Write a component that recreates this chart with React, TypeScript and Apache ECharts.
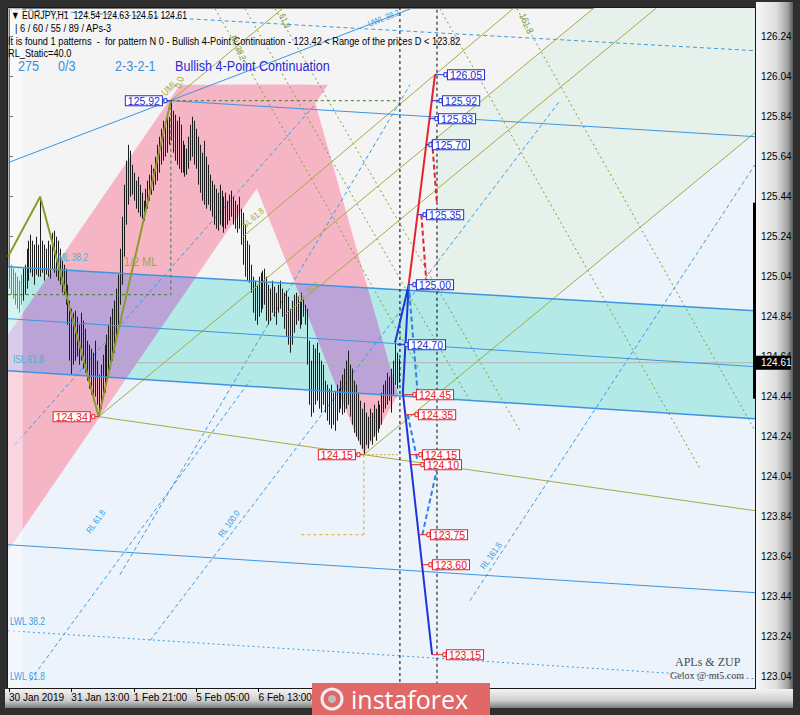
import React, { useEffect, useRef } from "react";
import * as echarts from "echarts";

// ---------------- data ----------------
const barHigh = [
  125.12, 125.10, 125.08, 125.06, 125.04, 125.02, 125.05, 125.08, 125.10, 125.18,
  125.22, 125.25, 125.22, 125.20, 125.24, 125.20, 125.44, 125.22, 125.20, 125.18,
  125.22, 125.20, 125.26, 125.27, 125.24, 125.22, 125.18, 125.12, 125.10, 125.08,
  125.00, 124.92, 124.88, 124.86, 124.87, 124.84, 124.80, 124.86, 124.82, 124.78,
  124.72, 124.70, 124.68, 124.66, 124.72, 124.62, 124.55, 124.60, 124.65, 124.70,
  124.75, 124.80, 124.84, 124.88, 124.92, 124.98, 125.05, 125.18, 125.34, 125.50,
  125.62, 125.70, 125.67, 125.60, 125.56, 125.52, 125.54, 125.50, 125.46, 125.42,
  125.48, 125.52, 125.55, 125.60, 125.58, 125.64, 125.70, 125.74, 125.78, 125.82,
  125.80, 125.86, 125.84, 125.92, 125.87, 125.85, 125.82, 125.84, 125.80, 125.72,
  125.70, 125.68, 125.74, 125.80, 125.84, 125.82, 125.78, 125.74, 125.70, 125.66,
  125.72, 125.64, 125.60, 125.55, 125.52, 125.50, 125.48, 125.46, 125.50, 125.47,
  125.44, 125.46, 125.42, 125.45, 125.47, 125.44, 125.42, 125.40, 125.44, 125.38,
  125.36, 125.30, 125.22, 125.20, 125.10, 125.04, 125.02, 125.00, 125.04, 125.06,
  125.07, 125.08, 125.04, 125.00, 124.98, 125.02, 124.99, 124.96, 125.00, 125.02,
  124.98, 124.96, 124.97, 124.94, 124.88, 124.92, 124.95, 124.96, 124.94, 124.92,
  124.96, 124.93, 124.90, 124.88, 124.72, 124.62, 124.70, 124.68, 124.71, 124.66,
  124.62, 124.60, 124.52, 124.50, 124.48, 124.50, 124.46, 124.47, 124.50, 124.48,
  124.52, 124.55, 124.58, 124.62, 124.67, 124.60, 124.58, 124.52, 124.50, 124.46,
  124.42, 124.38, 124.41, 124.36, 124.34, 124.38, 124.36, 124.40, 124.38, 124.42,
  124.40, 124.46, 124.50, 124.52, 124.56, 124.54, 124.58, 124.62, 124.71, 124.66,
  124.63,
];
const barLow = [
  124.98, 124.95, 124.93, 124.90, 124.88, 124.86, 124.90, 124.92, 124.95, 124.98,
  125.02, 125.06, 125.04, 125.00, 125.05, 125.04, 125.04, 125.06, 125.02, 125.05,
  125.04, 125.03, 125.08, 125.06, 125.04, 125.02, 125.00, 124.96, 124.95, 124.90,
  124.80, 124.62, 124.55, 124.60, 124.62, 124.64, 124.60, 124.62, 124.58, 124.56,
  124.52, 124.48, 124.45, 124.42, 124.44, 124.40, 124.34, 124.38, 124.44, 124.46,
  124.50, 124.55, 124.58, 124.62, 124.66, 124.72, 124.80, 124.90, 125.00, 125.14,
  125.30, 125.40, 125.44, 125.45, 125.42, 125.38, 125.36, 125.34, 125.33, 125.32,
  125.35, 125.38, 125.42, 125.45, 125.47, 125.50, 125.52, 125.56, 125.60, 125.62,
  125.64, 125.66, 125.70, 125.72, 125.66, 125.62, 125.60, 125.58, 125.56, 125.56,
  125.54, 125.55, 125.58, 125.62, 125.64, 125.60, 125.58, 125.50, 125.46, 125.42,
  125.40, 125.38, 125.40, 125.37, 125.34, 125.30, 125.28, 125.27, 125.30, 125.29,
  125.26, 125.28, 125.30, 125.32, 125.34, 125.30, 125.28, 125.26, 125.28, 125.20,
  125.10, 125.04, 125.02, 125.01, 124.96, 124.86, 124.82, 124.80, 124.84, 124.86,
  124.88, 124.90, 124.82, 124.80, 124.82, 124.86, 124.84, 124.80, 124.86, 124.88,
  124.84, 124.78, 124.74, 124.70, 124.66, 124.70, 124.76, 124.80, 124.82, 124.78,
  124.80, 124.84, 124.80, 124.60, 124.40, 124.34, 124.36, 124.40, 124.42, 124.38,
  124.36, 124.40, 124.36, 124.32, 124.30, 124.28, 124.30, 124.27, 124.32, 124.36,
  124.38, 124.35, 124.36, 124.38, 124.40, 124.34, 124.30, 124.26, 124.24, 124.22,
  124.20, 124.18, 124.15, 124.20, 124.18, 124.22, 124.20, 124.24, 124.22, 124.26,
  124.28, 124.30, 124.36, 124.38, 124.40, 124.42, 124.36, 124.45, 124.50, 124.48,
  124.51,
];

const xTickIndex = [0, 32, 64, 96, 128];
const xTickLabels = ["30 Jan 2019", "31 Jan 13:00", "1 Feb 21:00", "5 Feb 05:00", "6 Feb 13:00"];
const yTickValues = [
  123.04, 123.24, 123.44, 123.64, 123.84, 124.04, 124.24, 124.44, 124.64,
  124.84, 125.04, 125.24, 125.44, 125.64, 125.84, 126.04, 126.24,
];
const lastPrice = 124.61;
const axisRangeBar = [125.41, 124.43];
const X_MIN = -0.5;
const X_MAX = 382.6;
const Y_MIN = 122.9835;
const Y_MAX = 126.3835;

// ZUP zigzag and pivots
const zigzagPts = [[-0.5, 125.14], [16, 125.44], [46, 124.34], [83, 125.92]];
const pivotIdx = [46, 83, 182];
const pivotPrice = [124.34, 125.92, 124.15];

// Andrews pitchfork (olive)
const forkMedian = [[46, 124.34], [300, 126.3835]];
const forkUpper = [[83, 125.92], [140.7, 126.3835]];
const forkLower = [[182, 124.15], [382.6, 125.76]];
const forkAC = [[46, 124.34], [382.6, 123.87]];
const forkLine1 = [[120, 125.24], [259, 126.3835]];
const forkLine3 = [[141.5, 124.85], [332, 126.3835]];

// blue channel lines
const blueB0 = [[-0.5, 125.61], [207, 126.3835]];
const blueB4 = [[83, 125.92], [382.6, 125.74]];
const blueB1 = [[-0.5, 125.09], [382.6, 124.87]];
const blueB2 = [[-0.5, 124.83], [382.6, 124.59]];
const blueB3 = [[-0.5, 124.57], [382.6, 124.33]];
const blueB5 = [[-0.5, 123.70], [382.6, 123.46]];
const blueLWL38 = [[-0.5, 123.27], [382.6, 123.03]];
const blueTopDash = [[-0.5, 126.38], [382.6, 126.17]];

// dashed blue fan lines
const fanLines = [
  [[3.1, 124.20], [156.9, 125.90]],
  [[72.3, 123.22], [282.6, 125.92]],
  [[236.4, 123.42], [382.6, 125.60]],
  [[56.9, 123.55], [205.7, 126.00]],
  [[10.8, 123.02], [123.6, 124.52]],
];
// dotted olive fibo lines
const fiboLines = [
  [[105.7, 126.38], [210.8, 124.57]],
  [[121.0, 126.38], [236.4, 124.42]],
  [[136.4, 126.38], [262.1, 124.27]],
  [[221.0, 126.38], [354.4, 124.08]],
  [[260.5, 126.38], [382.6, 124.27]],
];

// shaded zones
const cyanBand = [[-0.5, 125.09], [382.6, 124.87], [382.6, 124.33], [-0.5, 124.57]];
const pinkBand1 = [[-0.5, 124.75], [87.7, 126.0], [163.6, 126.0], [-0.5, 123.67]];
const pinkBand2 = [[105.7, 126.0], [154.4, 126.0], [199.5, 124.45], [182, 124.15]];
const lightBlueZone = [[-0.5, 124.57], [182, 124.456], [182, 124.15], [382.6, 125.76], [382.6, 122.9835], [-0.5, 122.9835]];
const forkZone = [[219.5, 125.734], [300, 126.3835], [382.6, 126.3835], [382.6, 125.76], [219.5, 124.45]];
const leftStrip = [[-0.5, 122.9835], [7, 122.9835], [7, 126.3835], [-0.5, 126.3835]];

// guides
const greenDashH = [[83, 125.92], [200.5, 125.92]];
const greenDashV = [[83, 125.92], [83, 124.95]];
const greenDashH2 = [[-0.5, 124.95], [83, 124.95]];
const orangeDashV = [[182, 124.15], [182, 123.75]];
const orangeDashH = [[150, 123.75], [182, 123.75]];
const orangeDotH = [[182, 124.15], [200.5, 124.15]];
const vLine1 = [[200.5, 122.9835], [200.5, 126.3835]];
const vLine2 = [[219.5, 123.0], [219.5, 126.3835]];

// projections
const projRedSolid = [[205, 125.0], [218.5, 126.05]];
const projRedDash1 = [[217, 125.72], [219.5, 125.40]];
const projRedDash2 = [[211.5, 125.35], [214, 125.02]];
const projBlueSolid = [[198, 124.71], [205, 125.0], [202, 124.46], [217, 123.15]];
const projBlueDash1 = [[205, 125.0], [209.5, 124.47]];
const projBlueDash2 = [[204.5, 124.35], [209.5, 124.12]];
const projBlueDash3 = [[212, 123.75], [220, 124.10]];

const upPrices = [126.05, 125.92, 125.83, 125.70, 125.35, 125.00, 124.70];
const upAnchor = [218.5, 216.9, 215.8, 214.1, 209.6, 204.6, 199];
const upBox = [224.6, 222.1, 220.0, 216.9, 213.9, 208.7, 204.6];
const downPrices = [124.45, 124.35, 124.15, 124.10, 123.75, 123.60, 123.15];
const downAnchor = [202.1, 203.2, 205.5, 206.1, 210.1, 211.8, 217];
const downBox = [208.7, 209.8, 211.8, 212.8, 215.9, 216.9, 224.1];

// ---------------- helpers ----------------
function clipConvex(subject: number[][], clipper: number[][]) {
  let area = 0;
  for (let k = 0; k < clipper.length; k++) {
    const a = clipper[k], b = clipper[(k + 1) % clipper.length];
    area += a[0] * b[1] - b[0] * a[1];
  }
  const sign = area > 0 ? 1 : -1;
  let output = subject.slice();
  for (let k = 0; k < clipper.length && output.length; k++) {
    const a = clipper[k], b = clipper[(k + 1) % clipper.length];
    const inside = (p: number[]) => sign * ((b[0] - a[0]) * (p[1] - a[1]) - (b[1] - a[1]) * (p[0] - a[0])) >= 0;
    const inter = (p: number[], q: number[]) => {
      const den = (p[0] - q[0]) * (a[1] - b[1]) - (p[1] - q[1]) * (a[0] - b[0]);
      const t = ((p[0] - a[0]) * (a[1] - b[1]) - (p[1] - a[1]) * (a[0] - b[0])) / den;
      return [p[0] + t * (q[0] - p[0]), p[1] + t * (q[1] - p[1])];
    };
    const input = output;
    output = [];
    for (let j = 0; j < input.length; j++) {
      const cur = input[j], prev = input[(j + input.length - 1) % input.length];
      if (inside(cur)) {
        if (!inside(prev)) output.push(inter(prev, cur));
        output.push(cur);
      } else if (inside(prev)) output.push(inter(prev, cur));
    }
  }
  return output;
}

const C = {
  bg: "#f4f4f4",
  pink: "#f5b5c5",
  purple: "#bba3d7",
  cyan: "#b3e9e6",
  lightBlue: "#ecf3fb",
  tint: "#e7f1ec",
  olive: "#a3ab44",
  zig: "#8c9b2e",
  oliveDot: "#7e9c3c",
  blue: "#3d95df",
  blueDash: "#3a9be2",
  projRed: "#e8212b",
  projBlue: "#1f35d8",
  projBlueDash: "#2d84e6",
  tagRed: "#e32028",
  tagBlue: "#1f2fd0",
  teal: "#47b2c9",
};

const FONT = '"Liberation Sans", Arial, sans-serif';

function polySeries(polys: number[][][], colors: string[], z: number, opacity = 1) {
  return {
    type: "custom",
    z,
    silent: true,
    data: polys.map(() => [0, 124]),
    renderItem: (params: any, api: any) => {
      const pts = polys[params.dataIndex].map((p) => api.coord(p));
      return { type: "polygon", shape: { points: pts }, style: { fill: colors[params.dataIndex], opacity } };
    },
  };
}

function lineSeries(pts: number[][], color: string, width: number, type: any, z: number) {
  return {
    type: "line",
    data: pts,
    symbol: "none",
    silent: true,
    z,
    lineStyle: { color, width, type },
  };
}

export default function App() {
  const ref = useRef<HTMLDivElement>(null);

  useEffect(() => {
    if (!ref.current) return;
    const chart = echarts.init(ref.current, undefined, { renderer: "svg" });

    const purple1 = clipConvex(pinkBand1, cyanBand);
    const purple2 = clipConvex(pinkBand2, cyanBand);

    const tags: any[] = [];
    upPrices.forEach((p, k) =>
      tags.push({ anchor: [upAnchor[k], p], box: upBox[k], text: p.toFixed(2), color: C.tagBlue, right: false })
    );
    downPrices.forEach((p, k) =>
      tags.push({ anchor: [downAnchor[k], p], box: downBox[k], text: p.toFixed(2), color: C.tagRed, right: false })
    );
    pivotIdx.forEach((i, k) =>
      tags.push({ anchor: [i, pivotPrice[k]], box: i - 2, text: pivotPrice[k].toFixed(2), color: k === 1 ? C.tagBlue : C.tagRed, right: true })
    );

    const series: any[] = [
      polySeries([lightBlueZone, forkZone], [C.lightBlue, C.tint], 1),
      polySeries([cyanBand], [C.cyan], 2),
      polySeries([pinkBand1, pinkBand2], [C.pink, C.pink], 3),
      polySeries([purple1, purple2], [C.purple, C.purple], 4),
      ...fiboLines.map((l) => lineSeries(l, C.oliveDot, 1, [2, 3], 5)),
      ...fanLines.map((l) => lineSeries(l, C.blueDash, 1, [4, 3], 5)),
      lineSeries(blueTopDash, C.blueDash, 1, [4, 3], 5),
      lineSeries(blueLWL38, C.blueDash, 1, [2, 3], 5),
      lineSeries([[-0.5, lastPrice], [382.6, lastPrice]], "#b4b4b4", 1, "solid", 5),
      {
        type: "custom",
        z: 6,
        silent: true,
        data: barHigh.map((h, k) => [k, barLow[k], h]),
        encode: { x: 0, y: [1, 2] },
        renderItem: (params: any, api: any) => {
          const i = api.value(0);
          const lo = api.coord([i, api.value(1)]);
          const hi = api.coord([i, api.value(2)]);
          const x = Math.round(lo[0]) + 0.5;
          return { type: "line", shape: { x1: x, y1: lo[1], x2: x, y2: hi[1] }, style: { stroke: "#1d1d1d", lineWidth: 1 } };
        },
      },
      polySeries([leftStrip], ["#ffffff"], 7, 0.45),
      lineSeries(forkMedian, C.olive, 1, "solid", 8),
      lineSeries(forkUpper, C.olive, 1, "solid", 8),
      lineSeries(forkLower, C.olive, 1, "solid", 8),
      lineSeries(forkAC, C.olive, 1, "solid", 8),
      lineSeries(forkLine1, C.olive, 1, "solid", 8),
      lineSeries(forkLine3, C.olive, 1, "solid", 8),
      lineSeries(blueB0, C.blue, 1, "solid", 8),
      lineSeries(blueB4, C.blue, 1, "solid", 8),
      lineSeries(blueB1, C.blue, 1.5, "solid", 8),
      lineSeries(blueB2, C.blue, 1, "solid", 8),
      lineSeries(blueB3, C.blue, 1.5, "solid", 8),
      lineSeries(blueB5, C.blue, 1, "solid", 8),
      lineSeries(greenDashH, "#3f7a2c", 1, [3, 3], 8),
      lineSeries(greenDashV, "#3f7a2c", 1, [3, 3], 8),
      lineSeries(greenDashH2, "#3f7a2c", 1, [3, 3], 8),
      lineSeries(orangeDashV, "#e5a524", 1, [3, 3], 8),
      lineSeries(orangeDashH, "#e5a524", 1, [3, 3], 8),
      lineSeries(orangeDotH, "#e5a524", 1, [2, 2], 8),
      lineSeries(vLine1, "#000000", 1, [3, 3], 8),
      lineSeries(vLine2, "#000000", 1, [3, 3], 8),
      lineSeries(zigzagPts, C.zig, 2, "solid", 9),
      lineSeries(projRedSolid, C.projRed, 2, "solid", 9),
      lineSeries(projRedDash1, C.projRed, 2, [5, 3], 9),
      lineSeries(projRedDash2, C.projRed, 2, [5, 3], 9),
      lineSeries(projBlueSolid, C.projBlue, 2, "solid", 9),
      lineSeries(projBlueDash1, C.projBlueDash, 2, [5, 3], 9),
      lineSeries(projBlueDash2, C.projBlueDash, 2, [5, 3], 9),
      lineSeries(projBlueDash3, C.projBlueDash, 2, [5, 3], 9),
      {
        type: "custom",
        z: 10,
        silent: true,
        data: tags.map(() => [0, 124]),
        renderItem: (params: any, api: any) => {
          const t = tags[params.dataIndex];
          const a = api.coord(t.anchor);
          const b = api.coord([t.box, t.anchor[1]]);
          const bx = t.right ? b[0] - 4 : b[0];
          const cx = t.right ? bx + 1 : bx - 3;
          return {
            type: "group",
            children: [
              { type: "line", shape: { x1: a[0], y1: a[1], x2: bx, y2: a[1] }, style: { stroke: t.color, lineWidth: 1 } },
              { type: "rect", shape: { x: cx, y: a[1] - 2, width: 3, height: 4 }, style: { fill: "#fff", stroke: t.color, lineWidth: 1 } },
              {
                type: "text",
                x: t.right ? bx - 1 : bx + 1,
                y: a[1],
                style: {
                  text: t.text,
                  fill: t.color,
                  font: `10.5px ${FONT}`,
                  lineHeight: 8,
                  align: t.right ? "right" : "left",
                  verticalAlign: "middle",
                  backgroundColor: "#ffffff",
                  borderColor: t.color,
                  borderWidth: 1,
                  padding: [1, 2, 0, 2],
                },
              },
            ],
          };
        },
      },
      {
        type: "custom",
        z: 11,
        silent: true,
        data: [[0, lastPrice]],
        renderItem: (params: any, api: any) => {
          const p = api.coord([X_MAX, lastPrice]);
          const r1 = api.coord([X_MAX, axisRangeBar[0]]);
          const r2 = api.coord([X_MAX, axisRangeBar[1]]);
          return {
            type: "group",
            children: [
              { type: "rect", shape: { x: p[0] - 2, y: r1[1], width: 3, height: r2[1] - r1[1] }, style: { fill: "#000" } },
              { type: "rect", shape: { x: p[0] + 1, y: p[1] - 7, width: 35, height: 14 }, style: { fill: "#000" } },
              {
                type: "text",
                x: p[0] + 6,
                y: p[1],
                style: { text: lastPrice.toFixed(2), fill: "#fff", font: `10px ${FONT}`, align: "left", verticalAlign: "middle" },
              },
            ],
          };
        },
      },
    ];

    const txt = (text: string, x: number, y: number, size: number, fill: string, extra: any = {}) => ({
      type: "text",
      x,
      y,
      z: 100,
      scaleX: extra.scaleX ?? 0.84,
      rotation: extra.rotation ?? 0,
      silent: true,
      style: {
        text,
        fill,
        font: `${extra.weight ?? ""} ${size}px ${extra.family ?? FONT}`,
        align: "left",
        verticalAlign: "middle",
      },
    });

    const graphic: any[] = [
      { type: "rect", z: -100, silent: true, shape: { x: 0, y: 0, width: 800, height: 715 }, style: { fill: "#2f2f2f" } },
      {
        type: "rect",
        z: -99,
        silent: true,
        shape: { x: 756, y: 2, width: 37, height: 706 },
        style: {
          fill: new echarts.graphic.LinearGradient(0, 0, 1, 0, [
            { offset: 0, color: "#f7f7f7" },
            { offset: 0.55, color: "#dedede" },
            { offset: 0.85, color: "#a4a4a4" },
            { offset: 1, color: "#5c5c5c" },
          ]),
        },
      },
      {
        type: "rect",
        z: -99,
        silent: true,
        shape: { x: 5, y: 689, width: 788, height: 19 },
        style: {
          fill: new echarts.graphic.LinearGradient(0, 0, 0, 1, [
            { offset: 0, color: "#f3f3f3" },
            { offset: 0.6, color: "#cfcfcf" },
            { offset: 1, color: "#7c7c7c" },
          ]),
        },
      },
      txt("▼ EURJPY,H1  124.54 124.63 124.51 124.61", 11, 15, 11, "#000", { scaleX: 0.79 }),
      txt("| 6 / 60 / 55 / 89 / APs-3", 15, 28, 11, "#000"),
      txt(
        "It is found 1 patterns  -  for pattern N 0 - Bullish 4-Point Continuation - 123.42 < Range of the prices D < 123.82",
        8, 41, 11, "#000"
      ),
      txt("RL_Static=40.0", 8, 53, 11, "#000"),
      txt("275", 18, 66, 15, "#3b8edb"),
      txt("0/3", 58, 66, 15, "#3b8edb"),
      txt("2-3-2-1", 115, 66, 15, "#3b8edb"),
      txt("Bullish 4-Point Continuation", 175, 66, 15, "#2a2ad6"),
      txt("APLs & ZUP", 675, 662, 12, "#4a4a4a", { family: '"Liberation Serif", serif', scaleX: 1 }),
      txt("Gelox @ mt5.com", 670, 675, 10, "#4a4a4a", { family: '"Liberation Serif", serif', scaleX: 1 }),
      txt("ML 38.2", 58, 258, 10, C.teal),
      txt("1/2 ML", 124, 262, 13, "#a7a352"),
      txt("ISL 61.8", 13, 360, 10, C.teal),
      txt("LWL 38.2", 10, 622, 10, C.blueDash),
      txt("LWL 61.8", 10, 677, 10, C.blueDash),
      txt("UML", 163, 94, 10, C.olive, { rotation: 0.75 }),
      txt("0.0", 178, 88, 10, C.olive, { rotation: 1.3 }),
      txt("RL 38.2", 233, 36, 9, C.oliveDot, { rotation: -1.15 }),
      txt("61.8", 282, 14, 9, C.oliveDot, { rotation: -1.15 }),
      txt("161.8", 522, 14, 10, C.oliveDot, { rotation: -1.15 }),
      txt("UWL 38.2", 368, 24, 9, C.blueDash, { rotation: 0.37 }),
      txt("SL 61.8", 243, 226, 9, C.olive, { rotation: 0.7 }),
      txt("SL 38.2", 298, 300, 9, C.olive, { rotation: 0.7 }),
      txt("RL 61.8", 88, 532, 9, C.blueDash, { rotation: 0.95 }),
      txt("RL 100.0", 220, 536, 9, C.blueDash, { rotation: 0.95 }),
      txt("RL 161.8", 482, 568, 9, C.blueDash, { rotation: 0.95 }),
      { type: "rect", z: 100, silent: true, shape: { x: 312, y: 683, width: 178, height: 32 }, style: { fill: "#e26868" } },
      { type: "circle", z: 101, silent: true, shape: { cx: 332, cy: 699, r: 10 }, style: { fill: "none", stroke: "#efefef", lineWidth: 3 } },
      { type: "circle", z: 101, silent: true, shape: { cx: 332, cy: 699, r: 4 }, style: { fill: "#bdbdbd" } },
      {
        type: "text",
        z: 101,
        silent: true,
        x: 351,
        y: 699,
        style: { text: "instaforex", fill: "#ffffff", font: `25px "Open Sans", ${FONT}`, align: "left", verticalAlign: "middle" },
      },
    ];

    chart.setOption({
      animation: false,
      grid: {
        left: 8,
        right: 45,
        top: 8,
        bottom: 27,
        show: true,
        backgroundColor: C.bg,
        borderColor: "#000",
        borderWidth: 1,
        containLabel: false,
      },
      xAxis: {
        type: "value",
        min: X_MIN,
        max: X_MAX,
        axisLine: { show: false },
        splitLine: { show: false },
        axisTick: { show: true, customValues: xTickIndex, length: 4, lineStyle: { color: "#000" } },
        axisLabel: {
          show: true,
          customValues: xTickIndex,
          align: "left",
          margin: 4,
          color: "#000",
          fontSize: 10,
          fontFamily: FONT,
          formatter: (v: number) => xTickLabels[xTickIndex.indexOf(Math.round(v))] ?? "",
        },
      },
      yAxis: {
        type: "value",
        position: "right",
        min: Y_MIN,
        max: Y_MAX,
        axisLine: { show: true, lineStyle: { color: "#000" } },
        splitLine: { show: false },
        axisTick: { show: true, customValues: yTickValues, length: 4, lineStyle: { color: "#000" } },
        axisLabel: {
          show: true,
          customValues: yTickValues,
          margin: 6,
          color: "#000",
          fontSize: 10,
          fontFamily: FONT,
          formatter: (v: number) => v.toFixed(2),
        },
      },
      series,
      graphic,
    });

    return () => chart.dispose();
  }, []);

  return <div ref={ref} style={{ position: "absolute", left: 0, top: 0, width: 800, height: 715 }} />;
}
